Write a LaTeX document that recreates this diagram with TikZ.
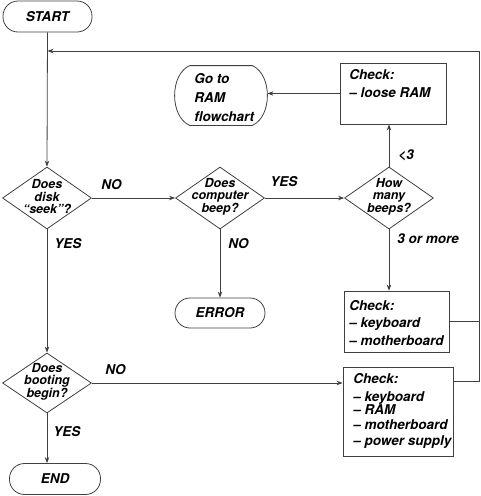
\documentclass[tikz,border=0pt]{standalone}
\usepackage{fontspec}
\setmainfont{TeX Gyre Heros}
\usetikzlibrary{shapes.geometric,arrows.meta,calc}
\begin{document}
\begin{tikzpicture}[x=1pt,y=-1pt,
  line width=0.8pt,
  every node/.style={font=\bfseries\itshape\fontsize{13.5}{16}\selectfont, inner sep=0pt, text=black},
  lc/.style={draw=black!75},
  term/.style={lc, rectangle, rounded corners=15pt, minimum height=31pt},
  dia/.style={lc, diamond, minimum width=89pt, minimum height=62pt, inner sep=0pt},
  box/.style={lc, rectangle},
  dtxt/.style={font=\bfseries\itshape\fontsize{12.5}{12.5}\selectfont, align=center},
  btxt/.style={align=left, anchor=north west},
  lbl/.style={anchor=west},
  arr/.style={lc, -{Stealth[length=6pt,width=4.5pt]}},
  ln/.style={lc}
]
\useasboundingbox (0,0) rectangle (481,496);

% terminals
\node[term, minimum width=89pt] (start) at (47.5,16.5) {START};
\node[term, minimum width=90pt, minimum height=30pt] (err) at (220,313) {ERROR};
\node[term, minimum width=91pt] (end) at (55,479) {END};

% diamonds
\node[dia] (d1) at (47,198) {};
\node[dtxt] (d1t) at (47,196.5) {Does\\disk\\“seek”?};
\node[dia] (d2) at (220,198) {};
\node[dtxt] (d2t) at (220,196.5) {Does\\computer\\beep?};
\node[dia] (d3) at (389,198) {};
\node[dtxt] (d3t) at (389,196.5) {How\\many\\beeps?};
\node[dia, minimum height=60pt] (d4) at (47,383) {};
\node[dtxt, font=\bfseries\itshape\fontsize{12.5}{11.5}\selectfont] (d4t) at (47,382) {Does\\booting\\begin?};

% RAM flowchart shape
\node[minimum width=92pt, minimum height=59pt] (ram) at (221,95.5) {};
\draw[lc] ($(ram.north west)+(15,0)$) -- ($(ram.north east)+(-15,0)$)
  .. controls +(20,9) and +(20,-9) .. ($(ram.south east)+(-15,0)$)
  -- ($(ram.south west)+(15,0)$)
  .. controls +(-20,-9) and +(-20,9) .. ($(ram.north west)+(15,0)$);
\node[btxt, font=\bfseries\itshape\fontsize{13.5}{19}\selectfont] (ramt) at (194,73) {Go to\\RAM\\flowchart};

% check boxes
\node[box, minimum width=106pt, minimum height=61pt] (chk1) at (393,93.5) {};
\node[btxt, font=\bfseries\itshape\fontsize{13.5}{18}\selectfont] (chk1t) at (349,69) {Check:\\– loose RAM};
\node[box, minimum width=105pt, minimum height=61pt] (chk2) at (396.5,321.5) {};
\node[btxt, font=\bfseries\itshape\fontsize{13.5}{17.5}\selectfont] (chk2t) at (349,300) {Check:\\– keyboard\\– motherboard};
\node[box, minimum width=110pt, minimum height=89pt] (chk3) at (398,411.5) {};
\node[btxt, font=\bfseries\itshape\fontsize{13.5}{15}\selectfont] (chk3t) at (353,373) {Check:\\[3pt]– keyboard\\[-2pt]– RAM\\– motherboard\\[1pt]– power supply};

% labels
\node[lbl] (l1) at (101,185) {NO};
\node[lbl] (l2) at (270,182) {YES};
\node[lbl] (l3) at (54,244) {YES};
\node[lbl] (l4) at (228,244) {NO};
\node[lbl] (l5) at (398,155) {<3};
\node[lbl] (l6) at (397,239) {3 or more};
\node[lbl] (l7) at (105,370) {NO};
\node[lbl] (l8) at (53,432) {YES};

% connectors
\coordinate (rt) at (479,51);
\coordinate (c2) at ($(chk2.east)+(30,0)$);
\coordinate (c3) at ($(chk3.north east)+(0,15)$);

\draw[arr] (start.south) -- (d1.north);
\draw[arr] (d1.east) -- (d2.west);
\draw[arr] (d2.east) -- (d3.west);
\draw[arr] (d2.south) -- (err.north);
\draw[arr] (d3.north) -- (d3.north |- chk1.south);
\draw[arr] (chk1.west) -- (chk1.west -| ram.east);
\draw[arr] (d3.south) -- (d3.south |- chk2.north);
\draw[arr] (d1.south) -- (d4.north);
\draw[arr] (d4.east) -- (d4.east -| chk3.west);
\draw[arr] (d4.south) -- (d4.south |- end.north);
\draw[ln] (chk2.east) -- (c2 -| rt);
\draw[arr] (c3) -- (c3 -| rt) -- (rt) -- (start.south |- rt);
\end{tikzpicture}
\end{document}
